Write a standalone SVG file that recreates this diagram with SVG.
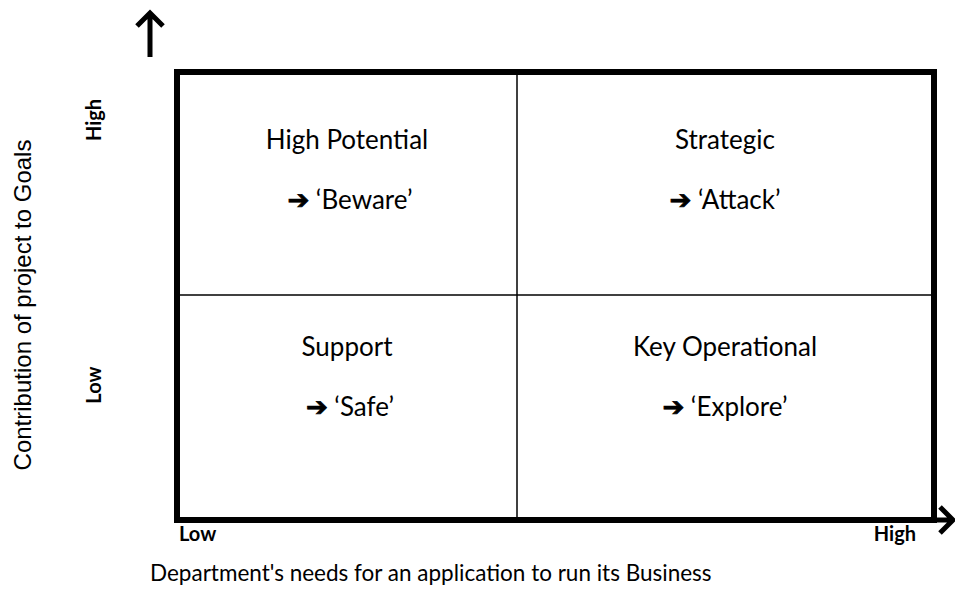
<svg xmlns="http://www.w3.org/2000/svg" width="955" height="599" viewBox="0 0 955 599">
<style>
.q{font-family:Lato,"Open Sans","Liberation Sans",sans-serif;font-size:26px;fill:#000;text-anchor:middle}
.lbl{font-family:Lato,"Open Sans","Liberation Sans",sans-serif;font-size:20px;font-weight:bold;fill:#000}
.ax{font-family:"Liberation Sans",Arial,sans-serif;font-size:24px;fill:#000}
.dept{font-family:Lato,"Open Sans","Liberation Sans",sans-serif;font-size:22.5px;fill:#000}
.ar{font-family:"DejaVu Sans",sans-serif;font-size:26px;font-weight:bold;stroke:#000;stroke-width:0.8}
.border{fill:none;stroke:#000;stroke-width:6}
.div{stroke:#000;stroke-width:1.5}
.axis{fill:none;stroke:#000;stroke-width:5;stroke-linecap:butt;stroke-linejoin:miter}
</style>
<rect width="955" height="599" fill="#fff"/>
<g id="connectors">
<path class="axis" d="M150 57 V13 M137 26 L150 13 L163 26"/>
<path class="axis" d="M918 520 H953 M940 507 L953 520 L940 533"/>
</g>
<g id="matrix">
<rect class="border" x="177" y="72" width="757" height="448"/>
<line class="div" x1="517" y1="75" x2="517" y2="517"/>
<line class="div" x1="180" y1="295" x2="931" y2="295"/>
</g>
<g id="high-potential">
<text class="q" x="347" y="149">High Potential</text>
<text class="q" x="350" y="209"><tspan class="ar">➔</tspan> ‘Beware’</text>
</g>
<g id="strategic">
<text class="q" x="725" y="149">Strategic</text>
<text class="q" x="725" y="209"><tspan class="ar">➔</tspan> ‘Attack’</text>
</g>
<g id="support">
<text class="q" x="347" y="356">Support</text>
<text class="q" x="350" y="416"><tspan class="ar">➔</tspan> ‘Safe’</text>
</g>
<g id="key-operational">
<text class="q" x="725" y="356">Key Operational</text>
<text class="q" x="725" y="416"><tspan class="ar">➔</tspan> ‘Explore’</text>
</g>
<g id="labels">
<text class="lbl" transform="translate(101,120) rotate(-90)" text-anchor="middle">High</text>
<text class="lbl" transform="translate(101,385) rotate(-90)" text-anchor="middle">Low</text>
<text class="lbl" x="179" y="541">Low</text>
<text class="lbl" x="916" y="541" text-anchor="end">High</text>
<text class="ax" transform="translate(31,305) rotate(-90)" text-anchor="middle">Contribution of project to Goals</text>
<text class="dept" x="150" y="581">Department's needs for an application to run its Business</text>
</g>
</svg>
